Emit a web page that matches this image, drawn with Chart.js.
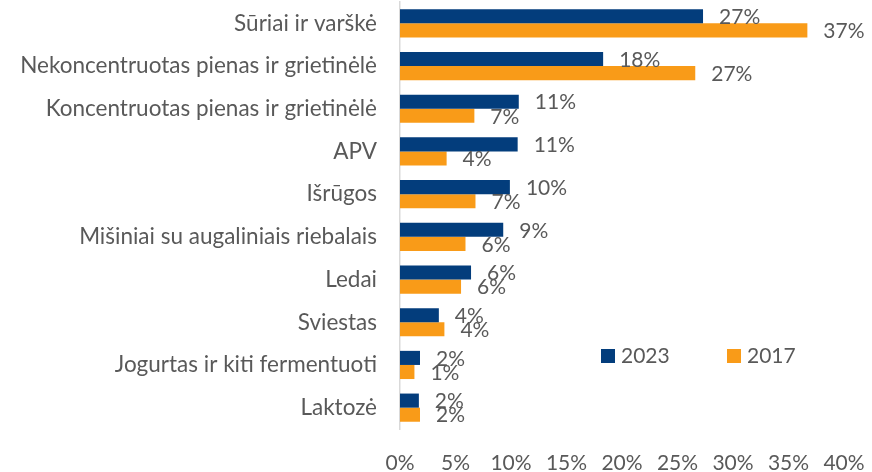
<!DOCTYPE html>
<html>
<head>
<meta charset="utf-8">
<script src="https://cdn.jsdelivr.net/npm/chart.js@4"></script>
<style>
  html, body { margin: 0; padding: 0; background: #ffffff; }
  #wrap { width: 872px; height: 472px; position: relative; }
</style>
</head>
<body>
<div id="wrap"><canvas id="chart" width="872" height="472"></canvas></div>
<script>
// Product groups (top to bottom)
const categories = [
  'Sūriai ir varškė',
  'Nekoncentruotas pienas ir grietinėlė',
  'Koncentruotas pienas ir grietinėlė',
  'APV',
  'Išrūgos',
  'Mišiniai su augaliniais riebalais',
  'Ledai',
  'Sviestas',
  'Jogurtas ir kiti fermentuoti',
  'Laktozė'
];

// Shares, %
const values2023 = [27.3, 18.3, 10.7, 10.6, 9.9, 9.3, 6.4, 3.5, 1.8, 1.7];
const values2017 = [36.7, 26.6, 6.7, 4.2, 6.8, 5.9, 5.5, 4.0, 1.3, 1.8];

const seriesNames = ['2023', '2017'];
const xTicks = [0, 5, 10, 15, 20, 25, 30, 35, 40];

const FONT = 'Lato, "Open Sans", sans-serif';
const TEXT = '#595959';
const BLUE = '#033D7C';
const ORANGE = '#F99B18';

// Value labels to the right of every bar
const valueLabels = {
  id: 'valueLabels',
  afterDatasetsDraw(chart) {
    const ctx = chart.ctx;
    ctx.save();
    ctx.font = '21px ' + FONT;
    ctx.fillStyle = TEXT;
    ctx.textAlign = 'left';
    ctx.textBaseline = 'middle';
    chart.data.datasets.forEach((ds, i) => {
      const meta = chart.getDatasetMeta(i);
      meta.data.forEach((bar, j) => {
        ctx.fillText(Math.round(ds.data[j]) + '%', bar.x + 16, bar.y + 1);
      });
    });
    ctx.restore();
  }
};

// Legend drawn inside the plot area
const innerLegend = {
  id: 'innerLegend',
  afterDraw(chart) {
    const ctx = chart.ctx;
    ctx.save();
    ctx.font = '21px ' + FONT;
    ctx.textBaseline = 'middle';
    ctx.textAlign = 'left';
    const starts = [601, 727];
    chart.data.datasets.forEach((ds, i) => {
      const x = starts[i];
      ctx.fillStyle = ds.backgroundColor;
      ctx.fillRect(x, 349, 14, 14);
      ctx.fillStyle = TEXT;
      ctx.fillText(ds.label, x + 20, 356);
    });
    ctx.restore();
  }
};

new Chart(document.getElementById('chart'), {
  type: 'bar',
  data: {
    labels: categories,
    datasets: [
      { label: seriesNames[0], data: values2023, backgroundColor: BLUE,
        categoryPercentage: 0.66, barPercentage: 1.0 },
      { label: seriesNames[1], data: values2017, backgroundColor: ORANGE,
        categoryPercentage: 0.66, barPercentage: 1.0 }
    ]
  },
  options: {
    indexAxis: 'y',
    responsive: false,
    animation: false,
    layout: { padding: { top: 2, right: 28, left: 0, bottom: 0 } },
    plugins: {
      legend: { display: false },
      tooltip: { enabled: false }
    },
    scales: {
      x: {
        min: 0,
        max: 40,
        afterBuildTicks(scale) { scale.ticks = xTicks.map(v => ({ value: v })); },
        afterFit(scale) {
          scale.height = 43;
          scale.paddingLeft = 0;
          scale.paddingRight = 0;
        },
        ticks: {
          callback: v => v + '%',
          color: TEXT,
          font: { family: FONT, size: 21 },
          padding: 14,
          maxRotation: 0
        },
        grid: { display: false },
        border: { display: false }
      },
      y: {
        afterFit(scale) {
          scale.width = 400;
          scale.paddingTop = 0;
          scale.paddingBottom = 0;
        },
        ticks: {
          color: TEXT,
          font: { family: FONT, size: 22.5 },
          padding: 23
        },
        grid: { display: false, drawTicks: false },
        border: { display: true, color: '#D9D9D9', width: 1.5 }
      }
    }
  },
  plugins: [valueLabels, innerLegend]
});
</script>
</body>
</html>
